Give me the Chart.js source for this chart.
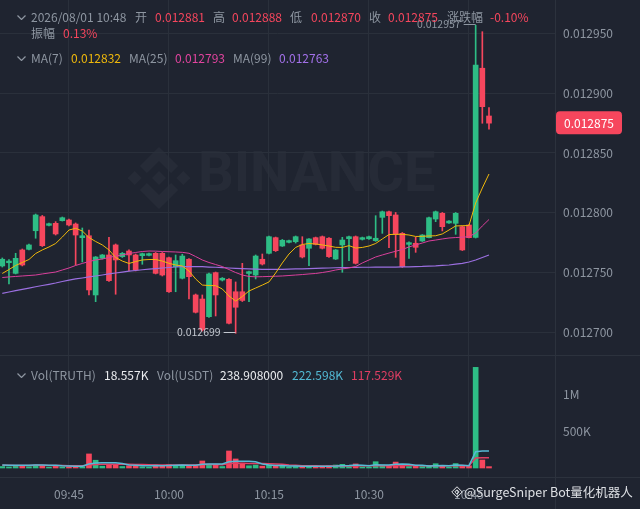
<!DOCTYPE html>
<html><head><meta charset="utf-8">
<script src="https://cdn.jsdelivr.net/npm/chart.js@4.4.1/dist/chart.umd.min.js"></script>
<style>
html,body{margin:0;padding:0;background:#1f2430;width:640px;height:509px;overflow:hidden;font-family:"Noto Sans CJK SC","Noto Sans",sans-serif;}
#wrap{position:relative;width:640px;height:509px;}
canvas{position:absolute;left:0;z-index:1;}
#c1{top:0}
#c2{top:355px}
.t{position:absolute;font-size:12px;line-height:16px;white-space:nowrap;z-index:3;}
.g{color:#8e96a1}.r{color:#f6465d}.w{color:#eaecef}
.y7{color:#f0b90b}.p25{color:#e2449f}.v99{color:#a371ea}
.cy{color:#52b9d4}.pr{color:#e03e63}
.chev{position:absolute;z-index:3}
.line{position:absolute;background:#2c323d;z-index:2}
#wm{position:absolute;left:198px;top:139px;font-family:Roboto,sans-serif;font-weight:700;font-size:56px;letter-spacing:0px;color:rgba(255,255,255,0.035);z-index:0}
#wmlogo{position:absolute;left:128px;top:147px;z-index:0}
#brand{position:absolute;left:464px;top:483px;font-size:12.5px;line-height:18px;color:rgba(238,240,243,0.92);z-index:4;text-shadow:0 0 2px #1f2430;}
#brandlogo{position:absolute;left:451px;top:486px;z-index:4}
</style>
</head><body><div id="wrap">
<svg id="wmlogo" width="62" height="62" viewBox="0 0 126.61 126.61"><g fill="rgba(255,255,255,0.035)">
<polygon points="38.73,53.2 63.3,28.63 87.89,53.22 102.19,38.92 63.3,0 24.42,38.9"/>
<polygon points="13.76,49 28.06,63.3 13.76,77.6 -0.54,63.3"/>
<polygon points="63.3,49 77.6,63.3 63.3,77.6 49,63.3"/>
<polygon points="112.85,49 127.15,63.3 112.85,77.6 98.55,63.3"/>
<polygon points="38.73,73.41 24.41,87.7 63.3,126.61 102.19,87.7 87.89,73.41 63.3,98"/>
</g></svg>
<div id="wm">BINANCE</div>
<canvas id="c1" width="640" height="355"></canvas>
<canvas id="c2" width="640" height="154"></canvas>
<div class="line" style="left:0;top:355px;width:640px;height:1px"></div>
<div class="line" style="left:0;top:477px;width:640px;height:1px"></div>
<div class="line" style="left:555px;top:0;width:1px;height:509px"></div>

<svg class="chev" style="left:17px;top:15px" width="9" height="5"><polyline points="0.5,0.5 4.5,4.5 8.5,0.5" fill="none" stroke="#8e96a1" stroke-width="1.2"/></svg>
<span class="t g" style="left:31px;top:9px">2026/08/01 10:48</span>
<span class="t g" style="left:135px;top:9px">开</span>
<span class="t r" style="left:155px;top:9px">0.012881</span>
<span class="t g" style="left:213px;top:9px">高</span>
<span class="t r" style="left:232px;top:9px">0.012888</span>
<span class="t g" style="left:290px;top:9px">低</span>
<span class="t r" style="left:311px;top:9px">0.012870</span>
<span class="t g" style="left:369px;top:9px">收</span>
<span class="t r" style="left:388px;top:9px">0.012875</span>
<span class="t g" style="left:447px;top:9px">涨跌幅</span>
<span class="t r" style="left:490px;top:9px">-0.10%</span>
<span class="t g" style="left:31px;top:25px">振幅</span>
<span class="t r" style="left:63px;top:25px">0.13%</span>

<svg class="chev" style="left:17px;top:56px" width="9" height="5"><polyline points="0.5,0.5 4.5,4.5 8.5,0.5" fill="none" stroke="#8e96a1" stroke-width="1.2"/></svg>
<span class="t g" style="left:31px;top:50px">MA(7)</span>
<span class="t y7" style="left:71px;top:50px">0.012832</span>
<span class="t g" style="left:129px;top:50px">MA(25)</span>
<span class="t p25" style="left:175px;top:50px">0.012793</span>
<span class="t g" style="left:233px;top:50px">MA(99)</span>
<span class="t v99" style="left:279px;top:50px">0.012763</span>

<svg class="chev" style="left:17px;top:373px" width="9" height="5"><polyline points="0.5,0.5 4.5,4.5 8.5,0.5" fill="none" stroke="#8e96a1" stroke-width="1.2"/></svg>
<span class="t g" style="left:31px;top:367px">Vol(TRUTH)</span>
<span class="t w" style="left:104px;top:367px">18.557K</span>
<span class="t g" style="left:157px;top:367px">Vol(USDT)</span>
<span class="t w" style="left:220px;top:367px">238.908000</span>
<span class="t cy" style="left:292px;top:367px">222.598K</span>
<span class="t pr" style="left:351px;top:367px">117.529K</span>

<svg id="brandlogo" width="12" height="12" viewBox="0 0 126.61 126.61"><g fill="none" stroke="#eef0f3" stroke-width="10">
<polygon points="63.3,8 118,63.3 63.3,118 8,63.3"/>
<polygon points="63.3,40 86,63.3 63.3,86 40,63.3"/>
</g></svg>
<div id="brand">@SurgeSniper Bot量化机器人</div>
</div>
<script>
// ---- data ----
const times = ['09:35','09:36','09:37','09:38','09:39','09:40','09:41','09:42','09:43','09:44',
'09:45','09:46','09:47','09:48','09:49','09:50','09:51','09:52','09:53','09:54',
'09:55','09:56','09:57','09:58','09:59','10:00','10:01','10:02','10:03','10:04',
'10:05','10:06','10:07','10:08','10:09','10:10','10:11','10:12','10:13','10:14',
'10:15','10:16','10:17','10:18','10:19','10:20','10:21','10:22','10:23','10:24',
'10:25','10:26','10:27','10:28','10:29','10:30','10:31','10:32','10:33','10:34',
'10:35','10:36','10:37','10:38','10:39','10:40','10:41','10:42','10:43','10:44',
'10:45','10:46','10:47','10:48'];
const tickTimes = ['09:45','10:00','10:15','10:30','10:45'];
const priceTicks = [0.0127, 0.01275, 0.0128, 0.01285, 0.0129, 0.01295];
const volTicks = [500000, 1000000];

const open = [0.0127554,0.0127581,0.0127492,0.0127688,0.0127693,0.0127849,0.0127967,0.0127894,0.0127911,0.0127933,
0.0127939,0.0127905,0.0127791,0.0127807,0.0127311,0.0127618,0.0127646,0.0127730,0.0127632,0.0127679,
0.0127646,0.0127640,0.0127643,0.0127660,0.0127660,0.0127623,0.0127548,0.0127451,0.0127610,0.0127311,
0.0127277,0.0127129,0.0127498,0.0127436,0.0127442,0.0127338,0.0127338,0.0127491,0.0127478,0.0127610,
0.0127660,0.0127791,0.0127721,0.0127752,0.0127757,0.0127730,0.0127702,0.0127791,0.0127799,0.0127786,
0.0127612,0.0127730,0.0127782,0.0127799,0.0127777,0.0127782,0.0127766,0.0127961,0.0128008,0.0127981,
0.0127827,0.0127735,0.0127744,0.0127763,0.0127791,0.0127947,0.0127995,0.0127914,0.0127911,0.0127883,
0.0127897,0.0127794,0.0129210,0.0128810];
const high = [0.0127621,0.0127608,0.0127660,0.0127696,0.0127738,0.0127989,0.0127977,0.0127914,0.0127925,0.0127964,
0.0127947,0.0127914,0.0127872,0.0127855,0.0127633,0.0127650,0.0127794,0.0127738,0.0127667,0.0127688,
0.0127654,0.0127662,0.0127662,0.0127667,0.0127667,0.0127629,0.0127646,0.0127652,0.0127616,0.0127319,
0.0127311,0.0127495,0.0127503,0.0127457,0.0127449,0.0127420,0.0127576,0.0127512,0.0127646,0.0127654,
0.0127805,0.0127796,0.0127776,0.0127771,0.0127805,0.0127799,0.0127784,0.0127796,0.0127805,0.0127792,
0.0127692,0.0127794,0.0127805,0.0127805,0.0127796,0.0127805,0.0127975,0.0128014,0.0128014,0.0128002,
0.0127834,0.0127755,0.0127794,0.0127817,0.0127964,0.0128014,0.0128002,0.0127935,0.0128002,0.0127889,
0.0127901,0.0129570,0.0129516,0.0128880];
const low = [0.0127545,0.0127403,0.0127487,0.0127554,0.0127688,0.0127786,0.0127717,0.0127889,0.0127813,0.0127930,
0.0127889,0.0127562,0.0127587,0.0127311,0.0127255,0.0127612,0.0127424,0.0127317,0.0127625,0.0127512,
0.0127512,0.0127568,0.0127637,0.0127487,0.0127470,0.0127332,0.0127338,0.0127445,0.0127277,0.0127160,
0.0127009,0.0127122,0.0127135,0.0127428,0.0127068,0.0126990,0.0127256,0.0127255,0.0127445,0.0127562,
0.0127654,0.0127675,0.0127717,0.0127746,0.0127746,0.0127621,0.0127556,0.0127730,0.0127696,0.0127625,
0.0127608,0.0127501,0.0127598,0.0127570,0.0127771,0.0127777,0.0127760,0.0127827,0.0127707,0.0127626,
0.0127541,0.0127618,0.0127668,0.0127759,0.0127788,0.0127925,0.0127847,0.0127910,0.0127819,0.0127683,
0.0127788,0.0127788,0.0128749,0.0128700];
const close = [0.0127610,0.0127595,0.0127618,0.0127562,0.0127730,0.0127981,0.0127724,0.0127908,0.0127822,0.0127958,
0.0127897,0.0127813,0.0127807,0.0127353,0.0127629,0.0127646,0.0127431,0.0127604,0.0127660,0.0127646,
0.0127520,0.0127657,0.0127657,0.0127492,0.0127478,0.0127338,0.0127598,0.0127637,0.0127464,0.0127166,
0.0127018,0.0127487,0.0127311,0.0127451,0.0127074,0.0127208,0.0127265,0.0127506,0.0127637,0.0127570,
0.0127799,0.0127682,0.0127769,0.0127766,0.0127799,0.0127629,0.0127780,0.0127735,0.0127702,0.0127632,
0.0127688,0.0127771,0.0127799,0.0127576,0.0127791,0.0127799,0.0127786,0.0128008,0.0127975,0.0127819,
0.0127548,0.0127749,0.0127710,0.0127813,0.0127958,0.0128008,0.0127883,0.0127930,0.0127995,0.0127688,
0.0127791,0.0129237,0.0128888,0.0128750];

const ma7 = [0.0127491,0.0127524,0.0127558,0.0127583,0.0127608,0.0127658,0.0127688,0.0127713,0.0127742,0.0127796,
0.0127855,0.0127869,0.0127847,0.0127792,0.0127759,0.0127730,0.0127688,0.0127625,0.0127595,0.0127575,
0.0127591,0.0127604,0.0127608,0.0127608,0.0127595,0.0127576,0.0127562,0.0127554,0.0127512,0.0127445,
0.0127394,0.0127390,0.0127389,0.0127361,0.0127302,0.0127260,0.0127298,0.0127344,0.0127369,0.0127394,
0.0127420,0.0127495,0.0127579,0.0127654,0.0127709,0.0127734,0.0127742,0.0127738,0.0127730,0.0127721,
0.0127710,0.0127709,0.0127724,0.0127704,0.0127709,0.0127721,0.0127742,0.0127780,0.0127817,0.0127819,
0.0127819,0.0127813,0.0127801,0.0127802,0.0127805,0.0127807,0.0127822,0.0127855,0.0127889,0.0127891,
0.0127893,0.0128081,0.0128207,0.0128324];
const ma25 = [0.0127457,0.0127462,0.0127466,0.0127470,0.0127474,0.0127478,0.0127487,0.0127495,0.0127503,0.0127520,
0.0127537,0.0127558,0.0127575,0.0127591,0.0127604,0.0127612,0.0127625,0.0127637,0.0127646,0.0127658,
0.0127667,0.0127675,0.0127679,0.0127678,0.0127675,0.0127673,0.0127671,0.0127668,0.0127660,0.0127633,
0.0127604,0.0127583,0.0127566,0.0127549,0.0127524,0.0127499,0.0127478,0.0127466,0.0127463,0.0127464,
0.0127466,0.0127468,0.0127470,0.0127474,0.0127478,0.0127482,0.0127487,0.0127491,0.0127499,0.0127508,
0.0127520,0.0127529,0.0127537,0.0127549,0.0127579,0.0127604,0.0127629,0.0127646,0.0127662,0.0127677,
0.0127692,0.0127713,0.0127730,0.0127746,0.0127763,0.0127771,0.0127780,0.0127788,0.0127792,0.0127795,
0.0127799,0.0127830,0.0127889,0.0127943];
const ma99 = [0.0127325,0.0127336,0.0127348,0.0127358,0.0127369,0.0127380,0.0127390,0.0127400,0.0127411,0.0127424,
0.0127436,0.0127445,0.0127453,0.0127462,0.0127470,0.0127478,0.0127487,0.0127495,0.0127503,0.0127510,
0.0127516,0.0127522,0.0127527,0.0127532,0.0127537,0.0127541,0.0127545,0.0127548,0.0127549,0.0127549,
0.0127548,0.0127545,0.0127543,0.0127540,0.0127537,0.0127534,0.0127532,0.0127529,0.0127527,0.0127526,
0.0127526,0.0127526,0.0127526,0.0127527,0.0127529,0.0127530,0.0127532,0.0127534,0.0127535,0.0127537,
0.0127539,0.0127540,0.0127541,0.0127542,0.0127543,0.0127543,0.0127544,0.0127544,0.0127545,0.0127545,
0.0127546,0.0127547,0.0127549,0.0127550,0.0127553,0.0127555,0.0127559,0.0127562,0.0127569,0.0127576,
0.0127587,0.0127604,0.0127625,0.0127646];

const vol = [20000,15000,35000,28000,18000,40000,30000,12000,25000,14000,
16000,22000,18000,190000,105000,25000,45000,40000,20000,30000,
35000,15000,12000,40000,30000,45000,28000,35000,30000,40000,
95000,50000,40000,20000,230000,122000,65000,30000,40000,25000,
45000,25000,30000,15000,20000,30000,25000,15000,20000,30000,
40000,50000,20000,55000,15000,12000,85000,40000,30000,80000,
35000,20000,25000,20000,35000,58000,30000,12000,60000,25000,
30000,1360000,108000,18557];
const volMa5 = [40000,38000,36000,36000,38000,40000,42000,38000,36000,30000,
28000,25000,24000,55000,68000,70000,70000,72000,60000,40000,
38000,32000,30000,33000,32000,35000,38000,40000,38000,36000,
50000,55000,55000,55000,85000,92000,90000,90000,85000,55000,
40000,35000,33000,28000,27000,24000,24000,22000,22000,25000,
27000,32000,35000,40000,38000,32000,45000,42000,40000,50000,
54000,50000,38000,36000,28000,32000,34000,30000,40000,38000,
32000,220000,230000,230000];
const volMa10 = [36000,36000,35000,35000,35000,36000,36000,35000,34000,33000,
32000,31000,30000,42000,48000,50000,52000,52000,52000,50000,
48000,46000,44000,42000,40000,40000,40000,40000,40000,42000,
46000,46000,46000,44000,60000,64000,64000,62000,62000,60000,
58000,55000,50000,40000,36000,32000,30000,30000,28000,28000,
28000,27000,27000,28000,30000,30000,30000,32000,32000,33000,
34000,34000,33000,32000,32000,30000,32000,32000,32000,33000,
32000,135000,140000,140000];

// ---- rendering ----
const UP='#2ebd85', DOWN='#f6465d', GRID='#2a303b', AX='#8e96a1';
const FONT='"Noto Sans CJK SC","Noto Sans",sans-serif';
Chart.defaults.font.family = FONT;
Chart.defaults.font.size = 12;
const idx = open.map((_, i) => i);
const cols = idx.map(i => close[i] >= open[i] ? UP : DOWN);
const tickIdx = tickTimes.map(t => times.indexOf(t));
const XMIN = -0.345, XMAX = 82.9;

const marks = {
  id: 'marks',
  afterDatasetsDraw(chart) {
    const {ctx, scales: {x, y}} = chart;
    ctx.save();
    ctx.font = '10.5px ' + FONT;
    ctx.textBaseline = 'middle';
    const hiI = high.indexOf(Math.max(...high));
    const loI = low.indexOf(Math.min(...low));
    [[hiI, high[hiI], '#8e96a1'], [loI, low[loI], '#c2c7cf']].forEach(([i, v, c]) => {
      const px = x.getPixelForValue(i), py = Math.round(y.getPixelForValue(v)) - 0.5;
      ctx.strokeStyle = c; ctx.lineWidth = 1;
      ctx.beginPath(); ctx.moveTo(px - 12, py); ctx.lineTo(px, py); ctx.stroke();
      ctx.fillStyle = c; ctx.textAlign = 'right';
      ctx.fillText(v.toFixed(6), px - 15, py);
    });
    ctx.restore();
  },
  afterDraw(chart) {
    const {ctx, scales: {y}} = chart;
    const last = close[close.length - 1];
    const py = y.getPixelForValue(last);
    ctx.save();
    ctx.fillStyle = DOWN;
    ctx.beginPath();
    ctx.roundRect(556, py - 12, 66, 23, 4);
    ctx.fill();
    ctx.fillStyle = '#ffffff';
    ctx.font = '12px ' + FONT;
    ctx.textBaseline = 'middle';
    ctx.textAlign = 'left';
    ctx.fillText(last.toFixed(6), 564, py);
    ctx.restore();
  }
};

const lineDs = (arr, color, w) => ({type: 'line', data: arr.map((v, i) => ({x: i, y: v})), borderColor: color, borderWidth: w, pointRadius: 0, tension: 0, order: 0});
const baseOpts = {animation: false, responsive: false, events: [], plugins: {legend: {display: false}, tooltip: {enabled: false}}, layout: {padding: 0}};

new Chart(document.getElementById('c1'), {
  type: 'bar',
  data: {datasets: [
    lineDs(ma7, '#f0b90b', 1),
    lineDs(ma25, '#d9409b', 1),
    lineDs(ma99, '#9b6fe0', 1.2),
    {type: 'bar', data: idx.map(i => ({x: i, y: [low[i], high[i]]})), backgroundColor: cols, barThickness: 1, grouped: false, order: 2},
    {type: 'bar', data: idx.map(i => ({x: i, y: [open[i], close[i]]})), backgroundColor: cols, barThickness: 5, minBarLength: 1, grouped: false, order: 1}
  ]},
  options: Object.assign({}, baseOpts, {
    scales: {
      x: {type: 'linear', min: XMIN, max: XMAX, offset: false,
          afterBuildTicks: s => { s.ticks = tickIdx.map(v => ({value: v})); },
          ticks: {display: false}, grid: {color: GRID, drawTicks: false, offset: false}, border: {display: false},
          afterFit: s => { s.height = 0; s.paddingLeft = 0; s.paddingRight = 0; }},
      y: {position: 'right', min: 0.01268082, max: 0.01297814,
          afterBuildTicks: s => { s.ticks = priceTicks.map(v => ({value: v})); },
          ticks: {color: AX, padding: 8, callback: v => Number(v).toFixed(6)},
          grid: {color: GRID, drawTicks: false}, border: {display: false},
          afterFit: s => { s.width = 85; s.paddingTop = 0; s.paddingBottom = 0; }}
    }
  }),
  plugins: [marks]
});

new Chart(document.getElementById('c2'), {
  type: 'bar',
  data: {datasets: [
    lineDs(volMa5, '#57bad6', 1.5),
    lineDs(volMa10, '#e03e63', 1.5),
    {type: 'bar', data: idx.map(i => ({x: i, y: vol[i]})), backgroundColor: cols, barThickness: 5, grouped: false, order: 1}
  ]},
  options: Object.assign({}, baseOpts, {
    scales: {
      x: {type: 'linear', min: XMIN, max: XMAX, offset: false,
          afterBuildTicks: s => { s.ticks = tickIdx.map(v => ({value: v})); },
          ticks: {color: AX, padding: 10, autoSkip: false, maxRotation: 0, callback: v => times[v]},
          grid: {color: GRID, drawTicks: false, offset: false}, border: {display: false},
          afterFit: s => { s.height = 32; s.paddingLeft = 0; s.paddingRight = 0; }},
      y: {position: 'right', min: -121622, max: 1527027,
          afterBuildTicks: s => { s.ticks = volTicks.map(v => ({value: v})); },
          ticks: {color: AX, padding: 8, callback: v => v >= 1e6 ? (v / 1e6) + 'M' : (v / 1e3) + 'K'},
          grid: {display: false, drawTicks: false}, border: {display: false},
          afterFit: s => { s.width = 85; s.paddingTop = 0; s.paddingBottom = 0; }}
    }
  })
});
</script>
</body></html>
